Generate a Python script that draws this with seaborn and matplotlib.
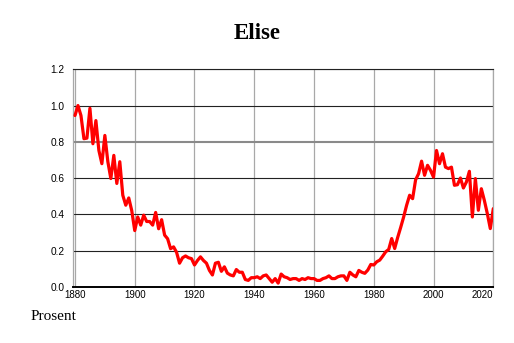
import matplotlib
matplotlib.use("Agg")
import matplotlib.pyplot as plt
import seaborn as sns
import numpy as np
import pandas as pd

title = "Elise"
ylabel_text = "Prosent"

years = list(range(1880, 2021))
values = [
    # 1880s
    0.945, 1.0, 0.945, 0.817, 0.82, 0.985, 0.789, 0.917, 0.752, 0.679,
    # 1890s
    0.835, 0.69, 0.597, 0.725, 0.57, 0.69, 0.505, 0.45, 0.49, 0.42,
    # 1900s
    0.31, 0.385, 0.34, 0.395, 0.36, 0.36, 0.34, 0.41, 0.32, 0.37,
    # 1910s
    0.285, 0.265, 0.21, 0.22, 0.19, 0.13, 0.16, 0.17, 0.16, 0.155,
    # 1920s
    0.12, 0.145, 0.165, 0.145, 0.13, 0.09, 0.065, 0.13, 0.135, 0.085,
    # 1930s
    0.11, 0.075, 0.065, 0.06, 0.095, 0.08, 0.08, 0.04, 0.035, 0.05,
    # 1940s
    0.05, 0.055, 0.045, 0.06, 0.065, 0.045, 0.025, 0.045, 0.02, 0.07,
    # 1950s
    0.055, 0.05, 0.04, 0.045, 0.045, 0.035, 0.045, 0.04, 0.05, 0.045,
    # 1960s
    0.045, 0.035, 0.035, 0.045, 0.05, 0.06, 0.045, 0.045, 0.055, 0.06,
    # 1970s
    0.06, 0.035, 0.08, 0.065, 0.055, 0.09, 0.08, 0.074, 0.092, 0.123,
    # 1980s
    0.12, 0.138, 0.147, 0.169, 0.193, 0.206, 0.266, 0.211, 0.272, 0.327,
    # 1990s
    0.385, 0.45, 0.505, 0.486, 0.59, 0.624, 0.693, 0.615, 0.67, 0.642,
    # 2000s
    0.605, 0.752, 0.679, 0.734, 0.66, 0.652, 0.66, 0.56, 0.563, 0.60,
    # 2010s
    0.545, 0.578, 0.637, 0.385, 0.597, 0.422, 0.541, 0.477, 0.404, 0.321,
    # 2020
    0.431,
]
xticks = [1880, 1900, 1920, 1940, 1960, 1980, 2000, 2020]
yticks = [0.0, 0.2, 0.4, 0.6, 0.8, 1.0, 1.2]

df = pd.DataFrame({"year": years, "value": values})

sns.set_style("white")
plt.rcParams["font.family"] = ["Liberation Sans", "DejaVu Sans"]
plt.rcParams["text.color"] = "black"

fig = plt.figure(figsize=(5.14, 3.43), dpi=100)
ax = fig.add_axes([0.1414, 0.164, 0.9597 - 0.1414, 0.798 - 0.164])

# grid lines
for xt in xticks:
    ax.axvline(xt, color="#a8a8a8", lw=0.9, zorder=1)
for yt in yticks[1:]:
    if abs(yt - 0.8) < 1e-9:
        ax.axhline(yt, color="#8a8a8a", lw=1.5, zorder=1)
    else:
        ax.axhline(yt, color="#222222", lw=0.8, zorder=1)

sns.lineplot(data=df, x="year", y="value", color="#ff0000", lw=2.3, ax=ax,
             zorder=3, clip_on=True)

ax.set_xlim(1879.23, 2020)
ax.set_ylim(0, 1.2)
ax.set_xticks(xticks)
ax.set_xticks(list(range(1885, 2020, 5)), minor=True)
ax.set_yticks(yticks)
ax.set_yticklabels([f"{v:.1f}" for v in yticks])
ax.set_xticklabels([str(v) for v in xticks])
labels = ax.get_xticklabels()
labels[-1].set_horizontalalignment("right")
ax.set_xlabel("")
ax.set_ylabel("")

ax.tick_params(axis="y", labelsize=7.3, length=1.2, width=0.8, pad=4.5,
               colors="#222222", labelcolor="black")
ax.tick_params(axis="x", which="major", labelsize=7, length=3, width=0.7,
               direction="in", pad=2.5, colors="#555555", labelcolor="black")
ax.tick_params(axis="x", which="minor", length=2, width=0.6,
               direction="in", colors="#777777")

for side in ["left", "right"]:
    ax.spines[side].set_color("#a8a8a8")
    ax.spines[side].set_linewidth(0.9)
ax.spines["top"].set_color("#222222")
ax.spines["top"].set_linewidth(0.8)
ax.spines["bottom"].set_color("black")
ax.spines["bottom"].set_linewidth(1.4)

fig.text(0.4995, 1 - 33.8 / 343, title, ha="center", va="center",
         fontsize=16.5, fontweight="bold", color="black",
         family=["Liberation Serif", "DejaVu Serif"])
fig.text(31 / 514, 1 - 317 / 343, ylabel_text, ha="left", va="center",
         fontsize=11, color="black",
         family=["Liberation Serif", "DejaVu Serif"])

fig.savefig("out.png", dpi=100)
